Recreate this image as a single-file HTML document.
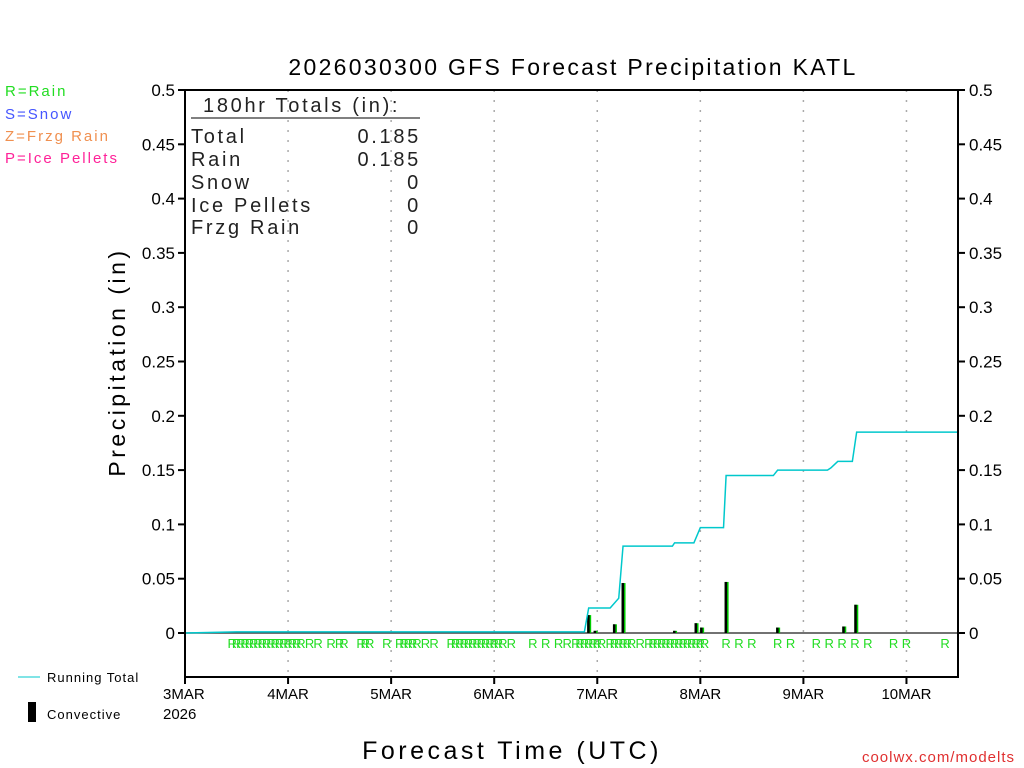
<!DOCTYPE html>
<html><head><meta charset="utf-8"><style>
html,body{margin:0;padding:0;background:#fff;}
svg{display:block;font-family:"Liberation Sans",sans-serif;}
</style></head><body>
<svg id="chart" width="1024" height="768" viewBox="0 0 1024 768">
<text x="573" y="75" text-anchor="middle" font-size="23" fill="#000" letter-spacing="2.3">2026030300 GFS Forecast Precipitation KATL</text>
<g font-size="15" letter-spacing="2">
<text x="5" y="96" fill="#22dd22">R=Rain</text>
<text x="5" y="119" fill="#4455ff">S=Snow</text>
<text x="5" y="141" fill="#f09050">Z=Frzg Rain</text>
<text x="5" y="163" fill="#ff2299">P=Ice Pellets</text>
</g>
<g id="grid"></g><g id="bars"></g><g id="line"></g><g id="marks"></g><g id="axes"></g>
<g font-size="20" fill="#222" letter-spacing="2.7">
<text x="203" y="112">180hr Totals (in):</text>
<line x1="191" y1="118" x2="420" y2="118" stroke="#000" stroke-width="1"/>
<text x="191" y="143">Total</text><text x="421" y="143" text-anchor="end">0.185</text>
<text x="191" y="166">Rain</text><text x="421" y="166" text-anchor="end">0.185</text>
<text x="191" y="189">Snow</text><text x="421" y="189" text-anchor="end">0</text>
<text x="191" y="212">Ice Pellets</text><text x="421" y="212" text-anchor="end">0</text>
<text x="191" y="234">Frzg Rain</text><text x="421" y="234" text-anchor="end">0</text>
</g>
<text x="125" y="362" transform="rotate(-90 125 362)" text-anchor="middle" font-size="23" letter-spacing="3.5">Precipitation (in)</text>
<text x="512" y="759" text-anchor="middle" font-size="25" letter-spacing="3.5">Forecast Time (UTC)</text>
<text x="1015" y="762" text-anchor="end" font-size="15" fill="#e03030" letter-spacing="1">coolwx.com/modelts</text>
<g>
<line x1="18" y1="677" x2="40" y2="677" stroke="#00c8cc" stroke-width="1"/>
<text x="47" y="682" font-size="13" letter-spacing="1">Running Total</text>
<rect x="28" y="702" width="8" height="20" fill="#000"/>
<text x="47" y="719" font-size="13" letter-spacing="1">Convective</text>
</g>
<script>
const days=["3MAR","4MAR","5MAR","6MAR","7MAR","8MAR","9MAR","10MAR"];
const yTicks=[0,0.05,0.1,0.15,0.2,0.25,0.3,0.35,0.4,0.45,0.5];
const totalHours=[0,12,93,94,99,101,102,113.5,114,118.5,120,125.4,126,137,138,149.6,150.4,152,155.4,156.4,180];
const totalValues=[0,0.001,0.001,0.023,0.023,0.032,0.080,0.080,0.083,0.083,0.097,0.097,0.145,0.145,0.150,0.150,0.152,0.158,0.158,0.185,0.185];
const convHours=[94,95.5,100,102,114,119,120.3,126,138,153.4,156.2];
const convValues=[0.0165,0.002,0.008,0.046,0.002,0.009,0.005,0.047,0.005,0.006,0.026];
const rainHours=[11,12,13,14,15,16,17,18,19,20,21,22,23,24,25,26,27,29,31,34,36,37,41,42,43,47,50,51,52,53,54,56,58,62,63,64,65,66,67,68,69,70,71,72,73,74,76,81,84,87,89,91,92,93,94,95,96,97,99,100,101,102,103,104,106,108,109,110,111,112,113,114,115,116,117,118,119,120,121,126,129,132,138,141,147,150,153,156,159,165,168,177];
const NS="http://www.w3.org/2000/svg";
const X0=185,X1=958,Y0=633,YT=90,YB=677;
const xs=h=>X0+h*(X1-X0)/180;
const ys=v=>Y0-v*(Y0-YT)/0.5;
function mk(tag,attrs,parent,text){const e=document.createElementNS(NS,tag);for(const k in attrs)e.setAttribute(k,attrs[k]);if(text!==undefined)e.textContent=text;document.getElementById(parent).appendChild(e);return e;}
days.forEach((d,i)=>{if(i===0)return;const x=xs(i*24);
const g=mk('line',{x1:x,y1:YT,x2:x,y2:YB,stroke:'#aaa','stroke-width':1.5,'stroke-dasharray':'2,8'},'grid');

});
mk('line',{x1:X0,y1:Y0,x2:X1,y2:Y0,stroke:'#444','stroke-width':1.5},'grid');
convHours.forEach((h,i)=>{const x=xs(h),y=ys(convValues[i]);
const r=mk('rect',{x:x-1.5,y:y,width:4,height:Y0-y,fill:'#00cc00'},'bars');


mk('rect',{x:x-1.5,y:y,width:2.5,height:Y0-y,fill:'#000'},'bars');});
const pts=totalHours.map((h,i)=>xs(h)+','+ys(totalValues[i])).join(' ');
const pl=mk('polyline',{points:pts,fill:'none',stroke:'#00c8cc','stroke-width':1.5},'line');


rainHours.forEach(h=>{const t=mk('text',{x:xs(h),y:648,'text-anchor':'middle','font-size':13,fill:'#22dd22'},'marks','R');

});
mk('rect',{x:X0,y:YT,width:X1-X0,height:YB-YT,fill:'none',stroke:'#000','stroke-width':2},'axes');
yTicks.forEach(v=>{const y=ys(v);
mk('line',{x1:X0-7,y1:y,x2:X0,y2:y,stroke:'#000','stroke-width':2},'axes');
mk('line',{x1:X1,y1:y,x2:X1+7,y2:y,stroke:'#000','stroke-width':2},'axes');
const l=mk('text',{x:X0-10,y:y+6,'text-anchor':'end','font-size':17},'axes',String(v));


const r=mk('text',{x:X1+11,y:y+6,'font-size':17},'axes',String(v));

});
days.forEach((d,i)=>{const x=xs(i*24);
mk('line',{x1:x,y1:YB,x2:x,y2:YB+7,stroke:'#000','stroke-width':2},'axes');
const t=mk('text',{x:i===0?x-22:x,y:699,'text-anchor':i===0?'start':'middle','font-size':15},'axes',d);

});
mk('text',{x:163,y:719,'font-size':15},'axes','2026');
</script>
</svg>
</body></html>
